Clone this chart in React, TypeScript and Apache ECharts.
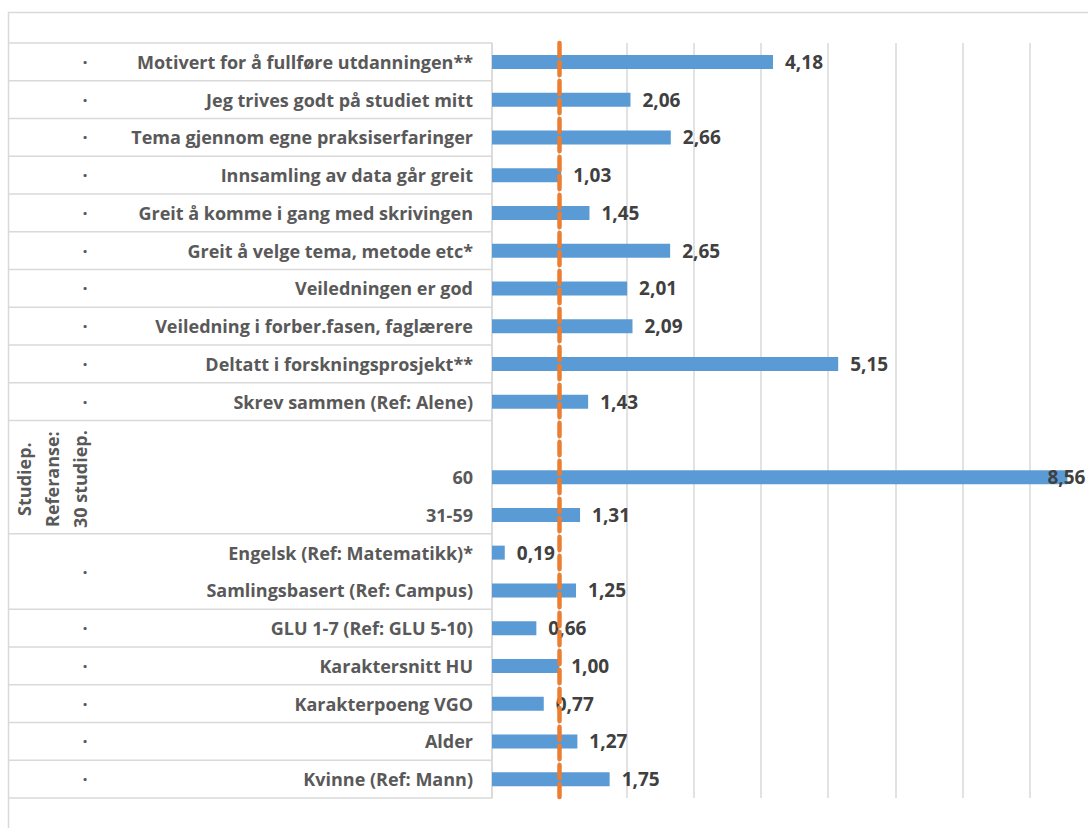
import React, { useEffect, useRef } from "react";
import * as echarts from "echarts";

const categories: string[] = [
  "Motivert for å fullføre utdanningen**",
  "Jeg trives godt på studiet mitt",
  "Tema gjennom egne praksiserfaringer",
  "Innsamling av data går greit",
  "Greit å komme i gang med skrivingen",
  "Greit å velge tema, metode etc*",
  "Veiledningen er god",
  "Veiledning i forber.fasen, faglærere",
  "Deltatt i forskningsprosjekt**",
  "Skrev sammen (Ref: Alene)",
  "",
  "60",
  "31-59",
  "Engelsk (Ref: Matematikk)*",
  "Samlingsbasert (Ref: Campus)",
  "GLU 1-7 (Ref: GLU 5-10)",
  "Karaktersnitt HU",
  "Karakterpoeng VGO",
  "Alder",
  "Kvinne (Ref: Mann)",
];

const values: (number | null)[] = [
  4.18, 2.06, 2.66, 1.03, 1.45, 2.65, 2.01, 2.09, 5.15, 1.43,
  null, 8.56, 1.31, 0.19, 1.25, 0.66, 1.0, 0.77, 1.27, 1.75,
];

const outerLabels: string[] = [
  "·", "·", "·", "·", "·", "·", "·", "·", "·", "·",
  "Studiep.\nReferanse:\n30 studiep.",
  "·",
  "·", "·", "·", "·", "·",
];
const outerSpans: number[] = [1, 1, 1, 1, 1, 1, 1, 1, 1, 1, 3, 2, 1, 1, 1, 1, 1];

const referenceValue = 1;
const xMin = 0;
const xMax = 9;
const xInterval = 1;

const FONT = "Open Sans";
const FONT_SIZE = 18;
const VALUE_FONT_SIZE = 19;
const GRID_COLOR = "#D9D9D9";

export default function App() {
  const ref = useRef<HTMLDivElement>(null);

  useEffect(() => {
    if (!ref.current) return;
    const chart = echarts.init(ref.current, undefined, { renderer: "svg" });
    const option: any = {
      animation: false,
      backgroundColor: "#ffffff",
      grid: { left: 492, right: 23, top: 43, bottom: 30, containLabel: false },
      xAxis: {
        type: "value",
        min: xMin,
        max: xMax,
        interval: xInterval,
        axisLabel: { show: false },
        axisLine: { show: false },
        axisTick: { show: false },
        splitLine: { show: true, lineStyle: { color: GRID_COLOR, width: 1.5 } },
      },
      yAxis: {
        type: "category",
        inverse: true,
        data: categories,
        axisLine: { show: true, lineStyle: { color: GRID_COLOR, width: 1.5 } },
        axisTick: { show: false },
        axisLabel: {
          margin: 19,
          fontFamily: FONT,
          fontWeight: "bold",
          fontSize: FONT_SIZE,
          color: "#595959",
        },
      },
      series: [
        {
          type: "bar",
          data: values.map((v) =>
            v !== null && v > xMax - 1
              ? { value: v, label: { offset: [-32, 0] } }
              : v
          ),
          barWidth: 14,
          itemStyle: { color: "#5B9BD5" },
          label: {
            show: true,
            position: "right",
            distance: 12,
            fontFamily: FONT,
            fontWeight: "bold",
            fontSize: VALUE_FONT_SIZE,
            color: "#404040",
            formatter: (p: any) =>
              p.value == null ? "" : Number(p.value).toFixed(2).replace(".", ","),
          },
          markLine: {
            silent: true,
            symbol: ["none", "none"],
            label: { show: false },
            lineStyle: {
              color: "#ED7D31",
              width: 4.5,
              type: [13, 6],
              cap: "round",
            },
            data: [{ xAxis: referenceValue }],
            z: 10,
          },
        },
      ],
    };
    chart.setOption(option);

    // build the table-like multi-level axis decoration from the axis scale
    const yA = chart.convertToPixel({ yAxisIndex: 0 }, 0) as number;
    const yB = chart.convertToPixel({ yAxisIndex: 0 }, 1) as number;
    const band = yB - yA;
    const axisX = chart.convertToPixel({ xAxisIndex: 0 }, xMin) as number;
    const rowTop = (i: number) => yA + (i - 0.5) * band;
    const leftX = 8.5;

    const elements: any[] = [
      {
        type: "rect",
        shape: { x: leftX, y: 12.5, width: 1400, height: 1400 },
        style: { fill: "none", stroke: GRID_COLOR, lineWidth: 1.5 },
        silent: true,
      },
    ];
    let idx = 0;
    elements.push({
      type: "line",
      shape: { x1: leftX, y1: rowTop(0), x2: axisX, y2: rowTop(0) },
      style: { stroke: GRID_COLOR, lineWidth: 1.5 },
    });
    outerSpans.forEach((span, g) => {
      const top = rowTop(idx);
      const bottom = rowTop(idx + span);
      const mid = (top + bottom) / 2;
      elements.push({
        type: "line",
        shape: { x1: leftX, y1: bottom, x2: axisX, y2: bottom },
        style: { stroke: GRID_COLOR, lineWidth: 1.5 },
      });
      const lbl = outerLabels[g];
      if (lbl.includes("\n")) {
        elements.push({
          type: "text",
          x: 52,
          y: mid + 2,
          rotation: Math.PI / 2,
          style: {
            text: lbl,
            fontFamily: FONT,
            fontWeight: "bold",
            fontSize: FONT_SIZE,
            lineHeight: 28,
            fill: "#595959",
            align: "center",
            verticalAlign: "middle",
          },
        });
      } else {
        elements.push({
          type: "text",
          x: 85,
          y: mid,
          style: {
            text: lbl,
            fontFamily: FONT,
            fontWeight: "bold",
            fontSize: FONT_SIZE,
            fill: "#595959",
            align: "center",
            verticalAlign: "middle",
          },
        });
      }
      idx += span;
    });
    chart.setOption({ graphic: { elements } });

    return () => chart.dispose();
  }, []);

  return (
    <div
      style={{
        position: "fixed",
        left: 0,
        top: 0,
        width: 1088,
        height: 828,
        overflow: "hidden",
        background: "#fff",
      }}
    >
      <div ref={ref} style={{ width: 1120, height: 828 }} />
    </div>
  );
}
